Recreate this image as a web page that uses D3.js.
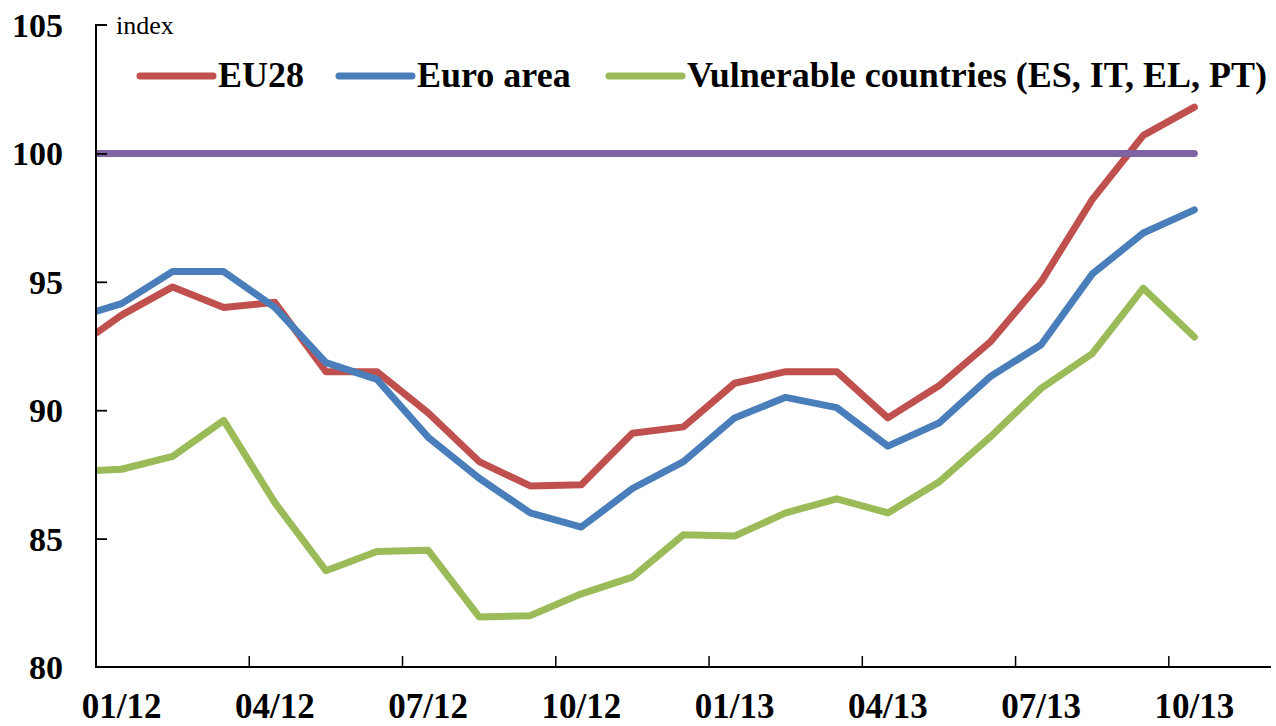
<!DOCTYPE html>
<html><head><meta charset="utf-8">
<script src="https://cdn.jsdelivr.net/npm/d3@7"></script>
<style>
html,body{margin:0;padding:0;background:#fff;}
svg text{font-family:"Liberation Serif","Times New Roman",serif;}
</style></head>
<body><svg id="chart" width="1276" height="726"></svg>
<script>
// Categories on the x axis (months)
const categories = ["01/12","02/12","03/12","04/12","05/12","06/12","07/12","08/12","09/12","10/12","11/12","12/12",
                    "01/13","02/13","03/13","04/13","05/13","06/13","07/13","08/13","09/13","10/13","11/13"];
const tickLabels = ["01/12","04/12","07/12","10/12","01/13","04/13","07/13","10/13"];
const yTicks = [80, 85, 90, 95, 100, 105];
// Values at the left edge of the plot (line starts at the axis)
const eu28Start = 93.0, euroStart = 93.85, vulnStart = 87.65;
// Monthly values 01/12 .. 10/13
const eu28 = [93.7,94.8,94.0,94.2,91.5,91.5,89.9,88.0,87.05,87.1,89.1,89.35,91.05,91.5,91.5,89.7,90.95,92.65,95.0,98.2,100.7,101.8];
const euroArea = [94.15,95.4,95.4,94.0,91.85,91.2,88.95,87.35,86.0,85.45,86.95,88.0,89.7,90.5,90.1,88.6,89.5,91.3,92.55,95.3,96.9,97.8];
const vulnerable = [87.7,88.2,89.6,86.4,83.75,84.5,84.55,81.95,82.0,82.85,83.5,85.15,85.1,86.0,86.55,86.0,87.2,88.95,90.85,92.2,94.75,92.85];
const reference = 100;

const svg = d3.select("#chart");
const mLeft = 96, mRight = 1271, mTop = 25, mBottom = 667;

const x = d3.scaleBand().domain(categories).range([mLeft, mRight]).padding(0);
const y = d3.scaleLinear().domain([80, 105]).range([mBottom, mTop]);
const cx = c => x(c) + x.bandwidth() / 2;

function buildPoints(start, vals) {
  const pts = [[x.range()[0], y(start)]];
  vals.forEach((v, i) => pts.push([cx(categories[i]), y(v)]));
  return pts;
}

const series = [
  {name:"EU28", color:"#C0504D", start:eu28Start, vals:eu28},
  {name:"Euro area", color:"#4A7EBB", start:euroStart, vals:euroArea},
  {name:"Vulnerable countries (ES, IT, EL, PT)", color:"#9BBB59", start:vulnStart, vals:vulnerable}
];

const line = d3.line();

svg.append("defs").append("clipPath").attr("id", "plotclip")
  .append("rect").attr("x", mLeft).attr("y", 0).attr("width", 1276 - mLeft).attr("height", 726);

// series lines
const plot = svg.append("g").attr("clip-path", "url(#plotclip)");
series.forEach(s => {
  plot.append("path").attr("d", line(buildPoints(s.start, s.vals)))
    .attr("fill", "none").attr("stroke", s.color).attr("stroke-width", 7)
    .attr("stroke-linejoin", "round").attr("stroke-linecap", "round");
});
// reference line at 100
plot.append("path")
  .attr("d", line([[x.range()[0], y(reference)], [cx(categories[eu28.length - 1]), y(reference)]]))
  .attr("fill", "none").attr("stroke", "#8064A2").attr("stroke-width", 7).attr("stroke-linecap", "round");

// axes
const yAxis = svg.append("g").attr("transform", `translate(${mLeft},0)`)
  .call(d3.axisRight(y).tickValues(yTicks).tickSize(11).tickFormat(""));
yAxis.select(".domain").attr("d", `M11,${mTop}H0V${mBottom}`).attr("stroke", "#000").attr("stroke-width", 2).attr("fill", "none");
yAxis.selectAll(".tick line").attr("stroke", "#000").attr("stroke-width", 1.8);
yAxis.selectAll(".tick").filter(d => d === 80 || d === 105).select("line").remove();

svg.append("g").selectAll("text").data(yTicks).join("text")
  .attr("x", 63).attr("y", d => y(d)).attr("dy", "0.35em")
  .attr("text-anchor", "end").attr("font-size", 34).attr("font-weight", "bold").text(d => d);

const xTickCats = categories.filter((c, i) => i % 3 === 0 && i > 0);
const xAxis = svg.append("g").attr("transform", `translate(0,${mBottom})`)
  .call(d3.axisTop(x).tickValues(xTickCats).tickSize(11).tickFormat(""));
xAxis.selectAll(".tick").attr("transform", d => `translate(${x(d)},0)`);
xAxis.select(".domain").attr("d", `M${mLeft - 1},0H${mRight}`).attr("stroke", "#000").attr("stroke-width", 2);
xAxis.selectAll(".tick line").attr("stroke", "#000").attr("stroke-width", 1.5);

svg.append("g").selectAll("text").data(tickLabels).join("text")
  .attr("x", d => cx(d)).attr("y", 718)
  .attr("text-anchor", "middle").attr("font-size", 35).attr("font-weight", "bold").text(d => d);

svg.append("text").attr("x", 116).attr("y", 34).attr("font-size", 26).text("index");

// legend
const legendX = [140, 339, 609];
const lg = svg.append("g");
series.forEach((s, i) => {
  lg.append("line").attr("x1", legendX[i]).attr("x2", legendX[i] + 73).attr("y1", 76).attr("y2", 76)
    .attr("stroke", s.color).attr("stroke-width", 7).attr("stroke-linecap", "round");
  lg.append("text").attr("x", legendX[i] + 78).attr("y", 87).attr("font-size", 36).attr("font-weight", "bold").text(s.name);
});
</script></body></html>
